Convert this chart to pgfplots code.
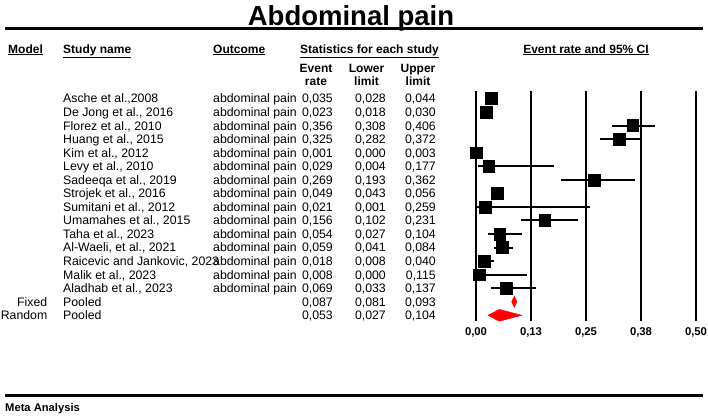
\documentclass[border=0pt]{standalone}
\usepackage{pgfplots}
\pgfplotsset{compat=1.18}
\usepackage{pgfplotstable}
\usepackage{fontspec}
\setmainfont{Liberation Sans}

\pgfplotstableread{
k est lo hi
0 0.035 0.028 0.044
1 0.023 0.018 0.030
2 0.356 0.308 0.406
3 0.325 0.282 0.372
4 0.001 0.000 0.003
5 0.029 0.004 0.177
6 0.269 0.193 0.362
7 0.049 0.043 0.056
8 0.021 0.001 0.259
9 0.156 0.102 0.231
10 0.054 0.027 0.104
11 0.059 0.041 0.084
12 0.018 0.008 0.040
13 0.008 0.000 0.115
14 0.069 0.033 0.137
}\studies

\newcommand{\bodyfont}{\fontsize{12.3}{14}\selectfont}
\newcommand{\headfont}{\fontsize{12}{14}\selectfont\bfseries}

\begin{document}
\begin{tikzpicture}[x=1pt,y=1pt]
\useasboundingbox (0,0) rectangle (708,-415);

% title and rules
\node[anchor=base,inner sep=0] at (351,-25) {\fontsize{27.5}{30}\selectfont\bfseries Abdominal pain};
\draw[line width=3pt] (5,-28.5) -- (703,-28.5);
\draw[line width=3pt] (5,-395) -- (703,-395);
\node[anchor=base west,inner sep=0] at (5,-411) {\fontsize{11.2}{13}\selectfont\bfseries Meta Analysis};

% headers
\node[anchor=base west,inner sep=0] at (8,-53) {\headfont\underline{Model}};
\node[anchor=base west,inner sep=0] at (63,-53) {\headfont\underline{Study name}};
\node[anchor=base west,inner sep=0] at (213,-53) {\headfont\underline{Outcome}};
\node[anchor=base west,inner sep=0] at (300,-53) {\headfont\underline{Statistics for each study}};
\node[anchor=base,inner sep=0] at (586,-53) {\headfont\underline{Event rate and 95\% CI}};
\node[anchor=base,inner sep=0] at (316,-72) {\headfont Event};
\node[anchor=base,inner sep=0] at (316,-85) {\headfont rate};
\node[anchor=base,inner sep=0] at (366.5,-72) {\headfont Lower};
\node[anchor=base,inner sep=0] at (366.5,-85) {\headfont limit};
\node[anchor=base,inner sep=0] at (418,-72) {\headfont Upper};
\node[anchor=base,inner sep=0] at (418,-85) {\headfont limit};

% table text
\foreach \k/\name/\e/\l/\u in {
0/{Asche et al.,2008}/{0,035}/{0,028}/{0,044},
1/{De Jong et al., 2016}/{0,023}/{0,018}/{0,030},
2/{Florez et al., 2010}/{0,356}/{0,308}/{0,406},
3/{Huang et al., 2015}/{0,325}/{0,282}/{0,372},
4/{Kim et al., 2012}/{0,001}/{0,000}/{0,003},
5/{Levy et al., 2010}/{0,029}/{0,004}/{0,177},
6/{Sadeeqa et al., 2019}/{0,269}/{0,193}/{0,362},
7/{Strojek et al., 2016}/{0,049}/{0,043}/{0,056},
8/{Sumitani et al., 2012}/{0,021}/{0,001}/{0,259},
9/{Umamahes et al., 2015}/{0,156}/{0,102}/{0,231},
10/{Taha et al., 2023}/{0,054}/{0,027}/{0,104},
11/{Al-Waeli, et al., 2021}/{0,059}/{0,041}/{0,084},
12/{Raicevic and Jankovic, 2023}/{0,018}/{0,008}/{0,040},
13/{Malik et al., 2023}/{0,008}/{0,000}/{0,115},
14/{Aladhab et al., 2023}/{0,069}/{0,033}/{0,137}} {
  \node[anchor=base west,inner sep=0] at (63,{-(98.5+13.55*\k+4.4)}) {\bodyfont\name};
  \node[anchor=base west,inner sep=0] at (213,{-(98.5+13.55*\k+4.4)}) {\bodyfont abdominal pain};
  \node[anchor=base east,inner sep=0] at (333,{-(98.5+13.55*\k+4.4)}) {\bodyfont\e};
  \node[anchor=base east,inner sep=0] at (386,{-(98.5+13.55*\k+4.4)}) {\bodyfont\l};
  \node[anchor=base east,inner sep=0] at (436,{-(98.5+13.55*\k+4.4)}) {\bodyfont\u};
}
\foreach \k/\m/\e/\l/\u in {15/Fixed/{0,087}/{0,081}/{0,093}, 16/Random/{0,053}/{0,027}/{0,104}} {
  \node[anchor=base east,inner sep=0] at (47.5,{-(98.5+13.55*\k+4.4)}) {\bodyfont\m};
  \node[anchor=base west,inner sep=0] at (63,{-(98.5+13.55*\k+4.4)}) {\bodyfont Pooled};
  \node[anchor=base east,inner sep=0] at (333,{-(98.5+13.55*\k+4.4)}) {\bodyfont\e};
  \node[anchor=base east,inner sep=0] at (386,{-(98.5+13.55*\k+4.4)}) {\bodyfont\l};
  \node[anchor=base east,inner sep=0] at (436,{-(98.5+13.55*\k+4.4)}) {\bodyfont\u};
}

\begin{axis}[
  at={(476pt,-91pt)}, anchor=north west,
  scale only axis, width=220pt, height=230pt,
  xmin=0, xmax=0.5, ymin=-16.42, ymax=0.553,
  clip=false,
  axis line style={draw=none},
  major tick length=0pt,
  ytick=\empty,
  xtick={0,0.125,0.25,0.375,0.5},
  xticklabels={{0,00},{0,13},{0,25},{0,38},{0,50}},
  xticklabel style={anchor=center, yshift=-11pt, font=\fontsize{11.3}{13}\selectfont\bfseries},
]
% reference lines at the ticks
\addplot[black, line width=2pt] coordinates {(0,-16.42) (0,0.553)};
\addplot[black, line width=2pt] coordinates {(0.125,-16.42) (0.125,0.553)};
\addplot[black, line width=2pt] coordinates {(0.25,-16.42) (0.25,0.553)};
\addplot[black, line width=2pt] coordinates {(0.375,-16.42) (0.375,0.553)};
\addplot[black, line width=2pt] coordinates {(0.5,-16.42) (0.5,0.553)};
\addplot[only marks, mark=square*, mark size=5.9pt, black,
  error bars/.cd, x dir=both, x explicit, error mark=none,
  error bar style={line width=2pt, black}]
  table[x=est, y expr=-\thisrow{k},
        x error plus expr=\thisrow{hi}-\thisrow{est},
        x error minus expr=\thisrow{est}-\thisrow{lo}] {\studies};
\addplot[fill=red, draw=red] coordinates {(0.081,-15) (0.087,-14.59) (0.093,-15) (0.087,-15.41)} -- cycle;
\addplot[fill=red, draw=red] coordinates {(0.027,-16) (0.053,-15.56) (0.104,-16) (0.053,-16.44)} -- cycle;
\end{axis}
\end{tikzpicture}
\end{document}
